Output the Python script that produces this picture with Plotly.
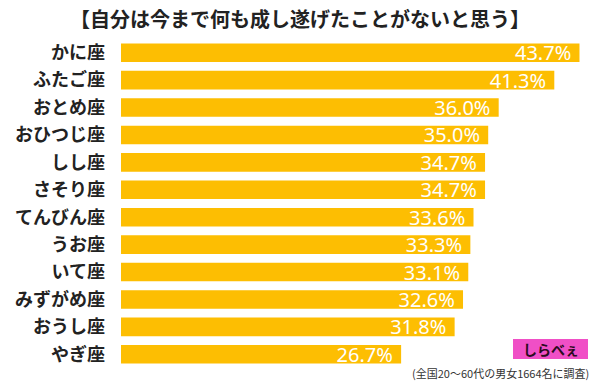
import plotly.graph_objects as go

categories = ["かに座", "ふたご座", "おとめ座", "おひつじ座", "しし座", "さそり座",
              "てんびん座", "うお座", "いて座", "みずがめ座", "おうし座", "やぎ座"]
values = [43.7, 41.3, 36.0, 35.0, 34.7, 34.7, 33.6, 33.3, 33.1, 32.6, 31.8, 26.7]
title_text = "【自分は今まで何も成し遂げたことがないと思う】"
note_text = "(全国20～60代の男女1664名に調査)"
logo_text = "しらべぇ"

FONT = "Noto Sans CJK JP"
W, H = 600, 385
l, r, t, b = 121, 20, 39, 17
pw, ph = W - l - r, H - t - b

def px(x):
    return (x - l) / pw

def py(y):
    return 1 - (y - t) / ph

fig = go.Figure(go.Bar(
    y=categories, x=values, orientation="h",
    marker=dict(color="#FDBE02", line=dict(width=0)),
    text=[f"{v:.1f}%\u00a0" for v in values], textposition="inside",
    insidetextanchor="end",
    textfont=dict(color="white", size=20, family="Noto Sans, " + FONT),
    width=0.68,
    hoverinfo="skip",
))

fig.update_layout(
    width=W, height=H,
    margin=dict(l=l, r=r, t=t, b=b, pad=0),
    paper_bgcolor="white", plot_bgcolor="white",
    showlegend=False,
    uniformtext=dict(minsize=20, mode="show"),
    xaxis=dict(range=[0, 43.75], visible=False, fixedrange=True, automargin=False),
    yaxis=dict(autorange="reversed", showgrid=False, zeroline=False, automargin=False,
               fixedrange=True,
               tickfont=dict(size=18, color="#222", family=FONT, weight="bold"),
               ticks="", ticklabelstandoff=15),
    annotations=[
        dict(text=f"<b>{title_text}</b>", x=px(300), y=py(18), xref="paper", yref="paper",
             showarrow=False, xanchor="center", yanchor="middle",
             font=dict(size=20, color="#222", family=FONT)),
        dict(text=note_text, x=px(591), y=py(373), xref="paper", yref="paper",
             showarrow=False, xanchor="right", yanchor="middle",
             font=dict(size=11, color="#333", family=FONT)),
        dict(text=f"<b>{logo_text}</b>", x=px(551), y=py(349), xref="paper", yref="paper",
             showarrow=False, xanchor="center", yanchor="middle",
             font=dict(size=14, color="#2a0a20", family=FONT)),
    ],
    shapes=[dict(type="rect", xref="paper", yref="paper",
                 x0=px(513), x1=px(588), y0=py(359), y1=py(339),
                 fillcolor="#F04FC6", line=dict(width=0), layer="below")],
)

fig.write_html("out.html", config={"displayModeBar": False, "staticPlot": True})

with open("out.html", encoding="utf-8") as f:
    html = f.read()
html = html.replace("<head>", "<head><style>html,body{margin:0;padding:0;overflow:hidden;}</style>", 1)
with open("out.html", "w", encoding="utf-8") as f:
    f.write(html)
